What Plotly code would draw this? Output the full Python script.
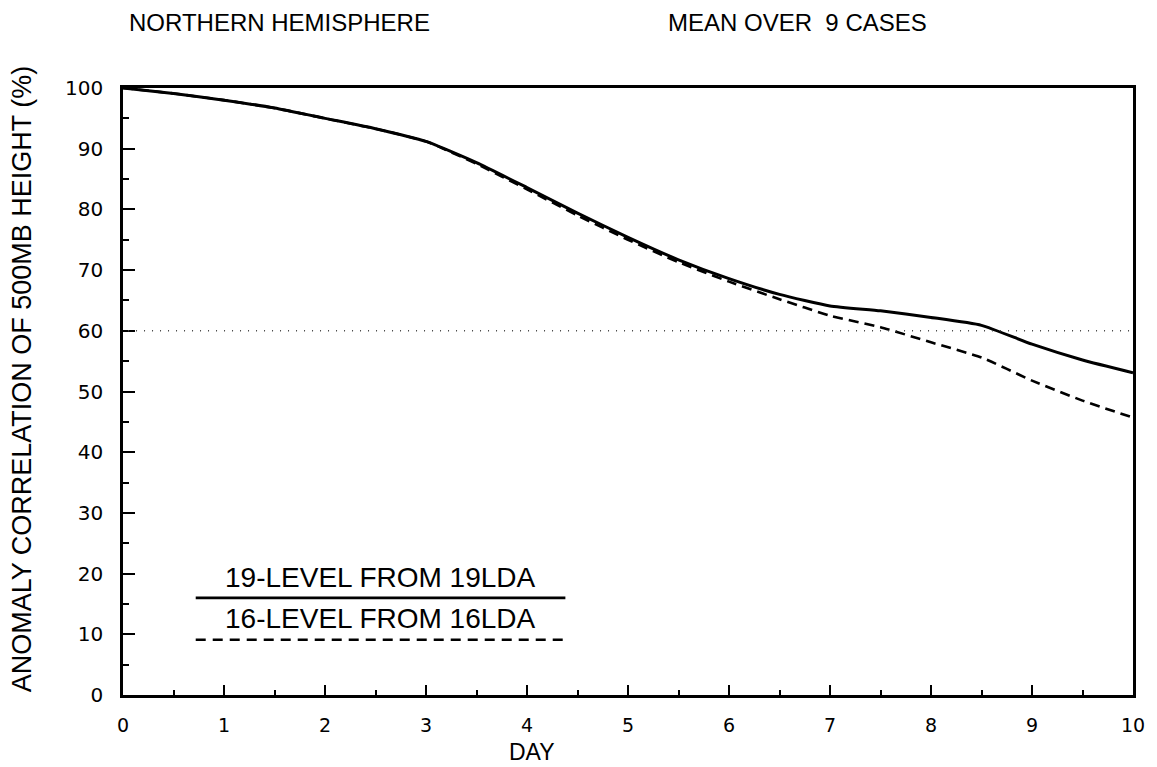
import plotly.graph_objects as go

# Forecast day
days = [0, 0.5, 1, 1.5, 2, 2.5, 3, 3.5, 4, 4.5, 5, 5.5, 6, 6.5, 7, 7.5, 8, 8.5, 9, 9.5, 10]

# Anomaly correlation of 500 mb height (%), mean over 9 cases
corr_19lda = [100, 99.1, 98.0, 96.7, 95.0, 93.3, 91.2, 87.7, 83.6, 79.4, 75.4, 71.7,
              68.6, 66.0, 64.1, 63.3, 62.2, 60.9, 57.8, 55.2, 53.1]
corr_16lda = [100, 99.1, 98.0, 96.7, 95.0, 93.3, 91.2, 87.5, 83.3, 79.0, 75.0, 71.3,
              68.1, 65.2, 62.5, 60.6, 58.1, 55.6, 51.8, 48.5, 45.7]

x_ticks = list(range(0, 11))
y_ticks = list(range(0, 101, 10))
skill_threshold = 60

series_names = ["19-LEVEL FROM 19LDA", "16-LEVEL FROM 16LDA"]

FONT = "Liberation Sans, Arial, Helvetica, sans-serif"
NUM_FONT = "DejaVu Sans, Verdana, sans-serif"

fig = go.Figure()

# dashed curve first so the solid one sits on top where they coincide
fig.add_trace(go.Scatter(
    x=days, y=corr_16lda, mode="lines", name=series_names[1],
    line=dict(color="black", width=2.6, dash="10px,6px", shape="spline", smoothing=0.5),
))
fig.add_trace(go.Scatter(
    x=days, y=corr_19lda, mode="lines", name=series_names[0],
    line=dict(color="black", width=3, shape="spline", smoothing=0.5),
))

shapes = [
    # 60% reference level
    dict(type="line", xref="x", yref="y", x0=0.05, x1=10, y0=skill_threshold, y1=skill_threshold,
         line=dict(color="#444", width=1.4, dash="1px,7px")),
    # key lines
    dict(type="line", xref="x", yref="y", x0=0.72, x1=4.38, y0=16.0, y1=16.0,
         line=dict(color="black", width=2.6)),
    dict(type="line", xref="x", yref="y", x0=0.72, x1=4.38, y0=9.1, y1=9.1,
         line=dict(color="black", width=2.4, dash="10px,7px")),
]

annotations = [
    dict(text="NORTHERN HEMISPHERE", xref="paper", yref="paper", x=0.155, y=1.0,
         xanchor="center", yanchor="bottom", yshift=50, showarrow=False,
         font=dict(family=FONT, size=24, color="black")),
    dict(text="MEAN OVER \u00a09 CASES", xref="paper", yref="paper", x=0.668, y=1.0,
         xanchor="center", yanchor="bottom", yshift=50, showarrow=False,
         font=dict(family=FONT, size=24, color="black")),
    dict(text="ANOMALY CORRELATION OF 500MB HEIGHT (%)", xref="paper", yref="paper",
         x=0, y=0.52, xanchor="center", yanchor="middle", xshift=-101, textangle=-90,
         showarrow=False, font=dict(family=FONT, size=27, color="black")),
    dict(text="DAY", xref="x", yref="paper", x=4.05, y=0, xanchor="center", yanchor="top",
         yshift=-42, showarrow=False, font=dict(family=FONT, size=23, color="black")),
    dict(text=series_names[0], xref="x", yref="y", x=2.55, y=19.4, xanchor="center",
         yanchor="middle", showarrow=False, font=dict(family=FONT, size=28, color="black")),
    dict(text=series_names[1], xref="x", yref="y", x=2.55, y=12.6, xanchor="center",
         yanchor="middle", showarrow=False, font=dict(family=FONT, size=28, color="black")),
]

fig.update_layout(
    width=1157, height=767,
    margin=dict(l=123, r=19, t=88, b=72),
    paper_bgcolor="white", plot_bgcolor="white",
    showlegend=False,
    shapes=shapes, annotations=annotations,
    font=dict(family=FONT, color="black"),
)

fig.update_xaxes(
    range=[0, 10], tickvals=x_ticks, ticks="inside", ticklen=10, tickwidth=1.5,
    tickcolor="black", showline=True, linewidth=2.5, linecolor="black", mirror=True,
    showgrid=False, zeroline=False, tickfont=dict(family=NUM_FONT, size=19, color="black"),
    ticklabelstandoff=11,
    minor=dict(dtick=0.5, ticks="inside", ticklen=5, tickwidth=1.5, tickcolor="black",
               showgrid=False),
)
fig.update_yaxes(
    range=[0, 100], tickvals=y_ticks, ticks="inside", ticklen=12, tickwidth=1.5,
    tickcolor="black", showline=True, linewidth=2.5, linecolor="black", mirror=True,
    showgrid=False, zeroline=False, tickfont=dict(family=NUM_FONT, size=20, color="black"),
    ticklabelstandoff=13,
    minor=dict(dtick=5, ticks="inside", ticklen=6, tickwidth=1.5, tickcolor="black",
               showgrid=False),
)

fig.write_html("out.html")
